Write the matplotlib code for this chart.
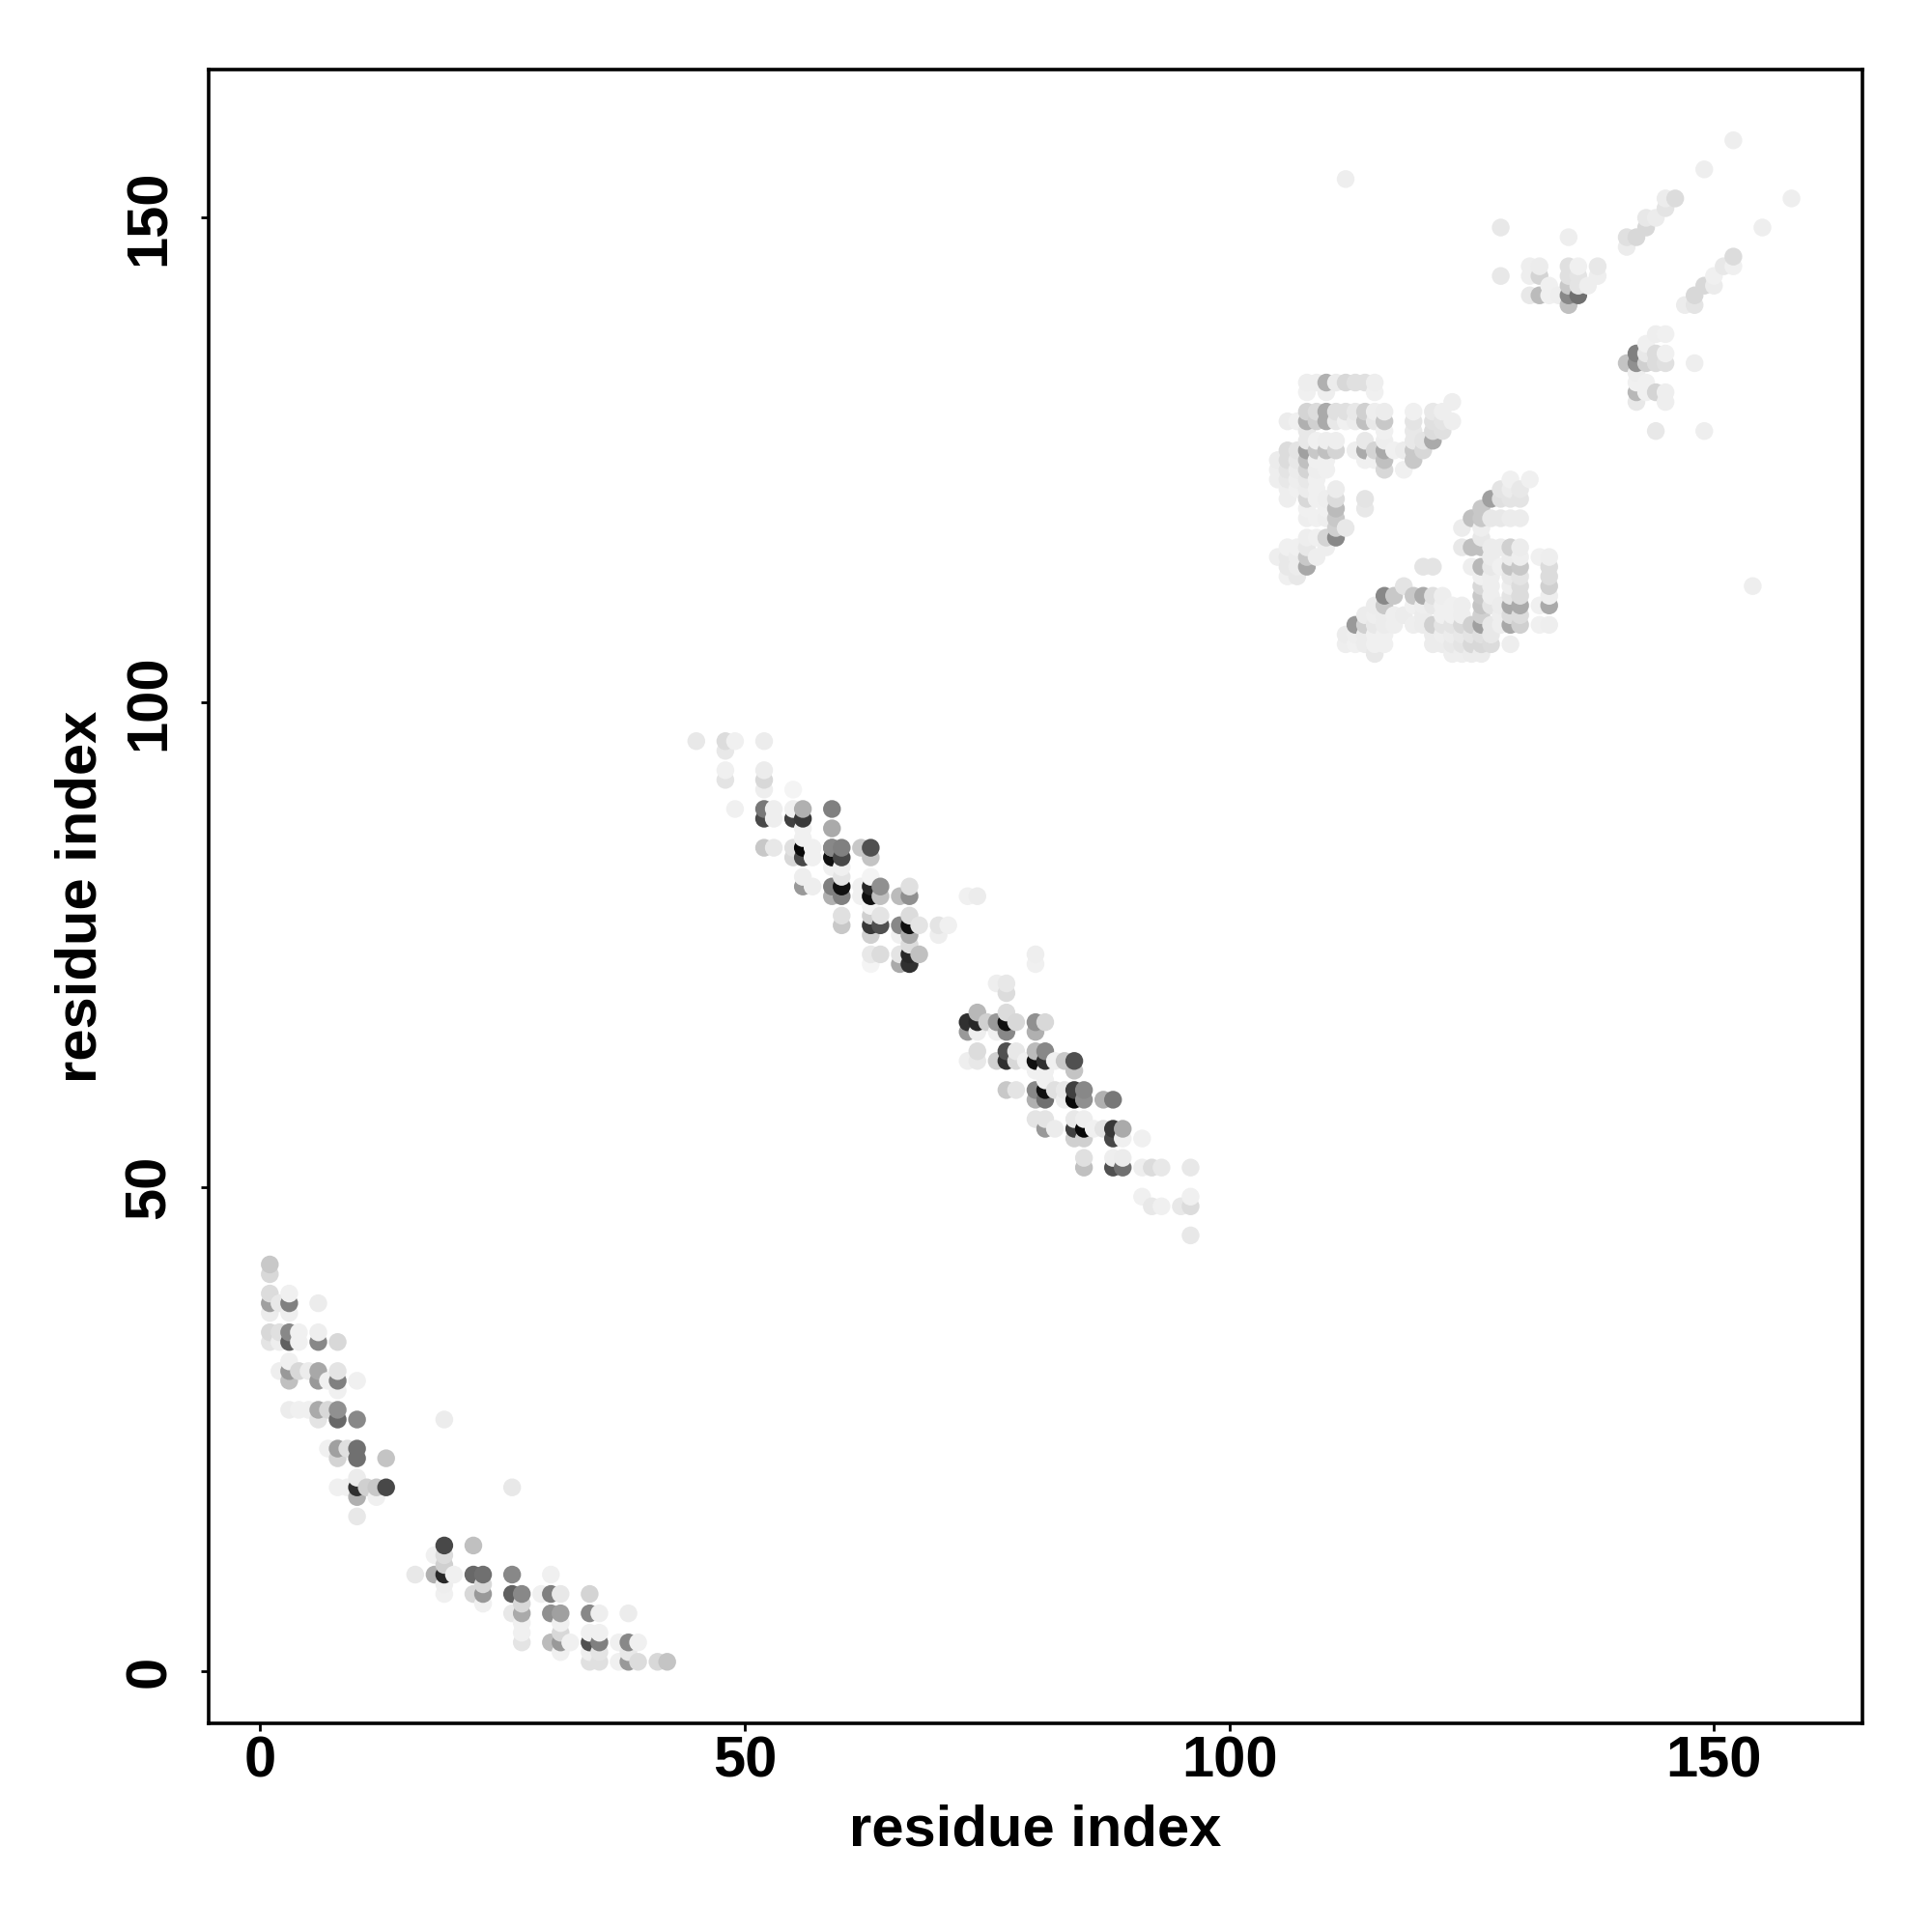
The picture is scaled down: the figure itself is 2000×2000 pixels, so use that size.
#!/usr/bin/env python3
"""Residue contact map, drawn as grey dots (darker = stronger)."""

import numpy as np
import matplotlib
matplotlib.use("Agg")
import matplotlib.pyplot as plt

plt.rcParams["font.family"] = ["Liberation Sans", "DejaVu Sans"]

# ---------- data, one block per cluster ----------
# shade is the grey level 0-255 of each dot
low_x = [1,1,1,1,1,1,1, 2,2,2,2, 3,3,3,3,3,3,3,3,3, 4,4,4,4, 5,5,
         6,6,6,6,6,6,6, 7,7,7, 8,8,8,8,8,8,8,8,8, 9,9,
         10,10,10,10,10,10,10,10, 11, 12,12, 13,13, 19, 26]
low_y = [42,41,39,38,37,35,34, 38,35,34,31, 39,38,37,35,34,32,31,30,27, 35,34,31,27, 31,27,
         38,35,34,31,30,27,26, 30,27,23, 34,31,30,29,27,26,23,22,19, 23,19,
         30,26,23,22,20,19,18,16, 19, 19,18, 22,19, 26, 19]
low_s = [200,216,220,160,236,216,228, 232,224,238,238,
         240,128,238,136,96,240,153,192,236, 240,240,216,240, 236,240,
         236,238,136,168,153,170,228, 240,216,240,
         216,228,128,240,144,104,160,212,240, 224,240,
         240,136,112,112,236,48,176,232, 208, 200,240, 196,72, 236, 232]

tail_x = [16, 18,18, 19,19,19,19,19,19, 20, 22,22,22, 23,23,23,23, 26,26,26,
          27,27,27,27,27,27, 29, 30,30,30,30, 31,31,31,31,31,31, 32,
          34,34,34,34,34,34, 35,35,35,35,35, 37,37, 38,38,38,38, 39,39, 41, 42]
tail_y = [10, 12,10, 13,12,11,10,9,8, 10, 13,10,8, 10,9,8,7, 10,8,6,
          8,7,6,5,4,3, 8, 10,8,6,3, 8,6,5,4,3,2, 3,
          8,6,4,3,2,1, 6,4,3,2,1, 3,1, 6,3,2,1, 3,1, 1, 1]
tail_s = [232, 240,176, 72,220,208,40,238,240, 240, 192,104,216, 112,216,153,240, 136,96,232,
          136,216,170,240,240,228, 240, 240,128,144,187, 232,160,240,216,153,240, 240,
          212,136,240,80,238,224, 238,240,128,228,224, 240,240, 236,136,232,153, 240,220, 216, 196]

mid_x = [45, 48,48,48,48, 49,49,
         52,52,52,52,52,52,52, 53,53,53, 55,55,55,55,55,
         56,56,56,56,56,56,56,56, 57,57,57,
         59,59,59,59,59,59,59,59, 60,60,60,60,60,60,60,60,
         62,62,62, 63,63,63,63,63,63,63,63,63,63,63, 64,64,64,64,64,
         66,66,66,66,66, 67,67,67,67,67,67,67,67, 68,68, 70,70, 71, 73, 74]
mid_y = [96, 96,95,93,92, 96,89,
         96,93,92,91,89,88,85, 89,88,85, 91,89,88,85,84,
         89,88,87,86,85,84,82,81, 85,84,81,
         89,87,85,84,83,81,80,85, 85,84,83,82,81,80,78,77,
         85,81,80, 85,84,82,81,80,79,78,77,76,74,73, 81,80,78,77,74,
         80,77,76,74,73, 81,80,78,77,76,75,74,73, 77,74, 77,76, 77, 80, 80]
mid_s = [232, 220,232,240,228, 240,240,
         236,236,216,238,120,72,200, 238,238,232, 244,240,64,224,216,
         176,56,240,240,8,72,238,153, 240,240,238,
         128,170,136,16,240,128,176,136, 128,72,240,228,16,128,224,200,
         200,240,240, 80,196,244,40,16,244,208,56,208,232,244, 144,192,228,80,220,
         187,136,240,228,170, 224,144,220,16,170,220,40,48, 228,192, 228,238, 240, 240, 236]

upper_x = [73,73,73, 74,74,74,74,74, 75, 76,76,76,76, 77,77,77,77,77,77,77,77, 78,78,78,78, 79,
           80,80,80,80,80,80,80,80,80,80, 81,81,81,81,81,81,81,81,81, 82,82,82, 83,83,83,
           84,84,84,84,84,84,84, 85,85,85,85,85,85,85, 86, 87,87, 88,88,88,88,88,
           89,89,89,89, 91,91,91, 92,92, 93,93, 95, 96,96,96,96]
upper_y = [67,66,63, 68,67,66,64,63, 67, 71,67,66,63, 71,70,68,67,66,64,63,60, 67,64,63,60, 63,
           74,73,67,66,64,63,62,60,59,57, 67,64,63,62,61,60,59,57,56, 63,60,56, 63,60,59,
           63,62,60,59,57,56,55, 60,59,57,56,55,53,52, 56, 59,56, 59,56,55,53,52,
           56,55,53,52, 55,52,49, 52,48, 52,48, 48, 52,49,48,45]
upper_s = [48,153,238, 184,40,238,220,232, 208, 238,153,240,208, 232,220,220,16,136,80,48,200, 216,232,216,228, 240,
           238,240,144,176,187,16,240,136,176,228, 216,136,48,240,240,16,112,228,153, 240,224,236, 200,232,238,
           80,196,64,8,232,64,208, 136,144,238,8,208,224,192, 240, 176,228, 120,56,72,238,80,
           170,240,236,112, 240,238,240, 220,232, 232,240, 232, 232,240,220,232]

sheet1_x = [108,109,110,111,112,113,114,115, 108,110,115,
            108,109,110,111,112,113,114,115,116, 119,121,122, 123,
            106,107,108,109,110,111,112,113,114,115,116,119,121,122,123,
            108,116,119,121,122, 108,109,110,111,114,116,119,120,121,
            106,107,108,109,110,111,113,114,115,116,117,118,119,120,
            105,106,107,108,109,110,114,115,116,119,
            105,106,107,108,109,110,116,118, 105,106,107,108,109,
            106,107,108,109,111, 106,108,109,110,111,114,
            108,110,111,114, 108,109,110,111, 111,112,
            108,109,110,111, 106,107,108,110, 105,106,107,108,109,
            106,107,108, 106,107]
sheet1_y = [133,133,133,133,133,133,133,133, 132,132,132,
            130,130,130,130,130,130,130,130,130, 130,130,130, 131,
            129,129,129,129,129,129,129,129,129,129,129,129,129,129,129,
            128,128,128,128,128, 127,127,127,127,127,127,127,127,127,
            126,126,126,126,126,126,126,126,126,126,126,126,126,126,
            125,125,125,125,125,125,125,125,125,125,
            124,124,124,124,124,124,124,124, 123,123,123,123,123,
            122,122,122,122,122, 121,121,121,121,121,121,
            120,120,120,120, 119,119,119,119, 118,118,
            117,117,117,117, 116,116,116,116, 115,115,115,115,115,
            114,114,114, 113,113]
sheet1_s = [238,238,176,236,216,224,224,238, 240,238,240,
            212,220,170,224,224,232,208,238,236, 240,232,238, 238,
            236,240,176,208,170,232,240,236,192,232,200,228,224,228,238,
            232,240,232,220,224, 232,240,238,238,232,238,232,228,170,
            220,228,160,200,192,212,238,170,212,170,240,236,200,216,
            236,220,232,192,240,240,240,240,192,200,
            238,228,236,212,238,240,216,240, 238,232,238,232,240,
            238,240,236,240,236, 238,216,240,238,220,228,
            240,240,187,232, 238,240,238,200, 208,232,
            238,240,212,136, 240,240,232,238, 238,232,236,200,238,
            232,236,168, 240,232]

sheet2_x = [129,131, 128,129,130, 127,128,129,130, 126, 125,126,127,128,129,130,
            124,126, 126, 124,125,126,127,128,129,130, 129,130,132,133,
            120,121,125,126,127,129,130,133, 126,129,130,133, 118,126,127,129,130,133,
            116,117,119,120,121,122,126,127,129,130,133,
            115,116,121,124,126,127,129,130,132,133,
            114,115,118,120,122,123,124,126,129,130,
            113,114,115,116,117,119,120,121,122,123,124,125,126,127,128,129,130,132,133,
            112,113,114,115,116,
            112,113,114,115,116,121,122,123,124,125,126,127,129,
            115,123,124,125,126,
            121,122,123,124,125,126,127, 127,127, 128,128,128, 116,117, 119,120, 122,123]
sheet2_y = [123,123, 122,122,122, 121,121,121,121, 120, 119,119,119,119,119,119,
            118,118, 117, 116,116,116,116,116,116,116, 115,115,115,115,
            114,114,114,114,114,114,114,114, 113,113,113,113, 112,112,112,112,112,112,
            111,111,111,111,111,111,111,111,111,111,111,
            110,110,110,110,110,110,110,110,110,110,
            109,109,109,109,109,109,109,109,109,109,
            108,108,108,108,108,108,108,108,108,108,108,108,108,108,108,108,108,108,108,
            107,107,107,107,107,
            106,106,106,106,106,106,106,106,106,106,106,106,106,
            105,105,105,105,105,
            107,107,107,107,107,107,107, 115,113, 114,110,109, 109,109, 110,110, 110,110]
sheet2_s = [240,240, 228,236,232, 160,224,228,228, 200, 192,200,232,232,236,236,
            236,238, 232, 232,192,192,236,236,208,236, 236,238,240,238,
            228,228,238,184,232,196,200,220, 240,232,228,220, 228,216,238,238,220,208,
            136,200,200,170,224,238,200,238,228,220,238,
            236,200,232,238,196,228,168,170,240,170,
            236,238,236,236,240,240,238,208,220,220,
            153,208,232,236,238,238,236,208,228,228,216,208,160,232,238,168,208,240,238,
            236,238,236,240,240,
            238,240,236,240,240,236,236,232,228,216,216,220,238,
            232,238,238,236,236,
            236,238,236,232,228,224,232, 236,238, 240,236,238, 236,238, 240,238, 240,240]

top_x = [131,131,131, 132,132,132, 133,133, 134, 135,135,135,135,135, 136,136,136,136, 137, 138,138,
         128, 128, 135,
         141,141, 142, 143,143, 144, 145,145, 146,
         147, 148,148, 149, 150,150, 151, 152,152,
         141,142,142,142,142,142,142, 143,143,143,143,143, 144,144,144,144, 145,145,145,145,145,
         148, 144, 149, 154, 112, 149, 152, 155, 158]
top_y = [145,144,142, 145,144,142, 143,142, 142, 145,144,143,142,141, 145,144,143,142, 143, 145,144,
         144, 149, 148,
         148,147, 148, 150,149, 150, 152,151, 152,
         141, 142,141, 143, 144,143, 145, 146,145,
         135,136,135,134,133,132,131, 137,136,135,133,132, 138,136,135,132, 138,136,135,132,131,
         135, 128, 128, 112, 154, 155, 158, 149, 152]
top_s = [238,238,232, 236,212,187, 240,240, 238, 224,224,200,136,192, 240,228,228,112, 238, 232,238,
         232, 232, 238,
         224,236, 216, 232,216, 236, 236,228, 220,
         236, 216,228, 216, 240,236, 232, 220,240,
         196,128,144,238,240,184,232, 240,232,208,240,240, 238,220,220,212, 240,240,224,238,238,
         238, 232, 238, 238, 238, 238, 238, 238, 238]

x = np.array(low_x + tail_x + mid_x + upper_x + sheet1_x + sheet2_x + top_x)
y = np.array(low_y + tail_y + mid_y + upper_y + sheet1_y + sheet2_y + top_y)
shade = np.array(low_s + tail_s + mid_s + upper_s + sheet1_s + sheet2_s + top_s)

# later residues are painted over earlier ones
order = np.lexsort((y, x))
colors = [str(v / 255) for v in shade[order]]

fig = plt.figure(figsize=(10, 10), dpi=200)
ax = fig.add_axes([216 / 2000, 1 - 1784 / 2000, (1928.3 - 216) / 2000, (1784 - 72) / 2000])
ax.scatter(x[order], y[order], s=44, c=colors, linewidths=0, zorder=2)

ax.set_xlim(-5.31, 165.35)
ax.set_ylim(-5.35, 165.3)
ax.set_xticks([0, 50, 100, 150])
ax.set_yticks([0, 50, 100, 150])
ax.tick_params(axis="x", length=3, width=1.0, pad=1.6, labelsize=21.5)
ax.tick_params(axis="y", length=3, width=1.0, pad=9, labelsize=21.5)
for lab in ax.get_xticklabels():
    lab.set_fontweight("bold")
for lab in ax.get_yticklabels():
    lab.set_fontweight("bold")
    lab.set_rotation(90)
    lab.set_va("center")
    lab.set_y(lab.get_position()[1])
for s in ax.spines.values():
    s.set_linewidth(1.3)

ax.set_xlabel("residue index", fontsize=21.5, fontweight="bold", labelpad=5.5)
ax.set_ylabel("residue index", fontsize=21.5, fontweight="bold", labelpad=6)

fig.savefig("out.png", dpi=200)
